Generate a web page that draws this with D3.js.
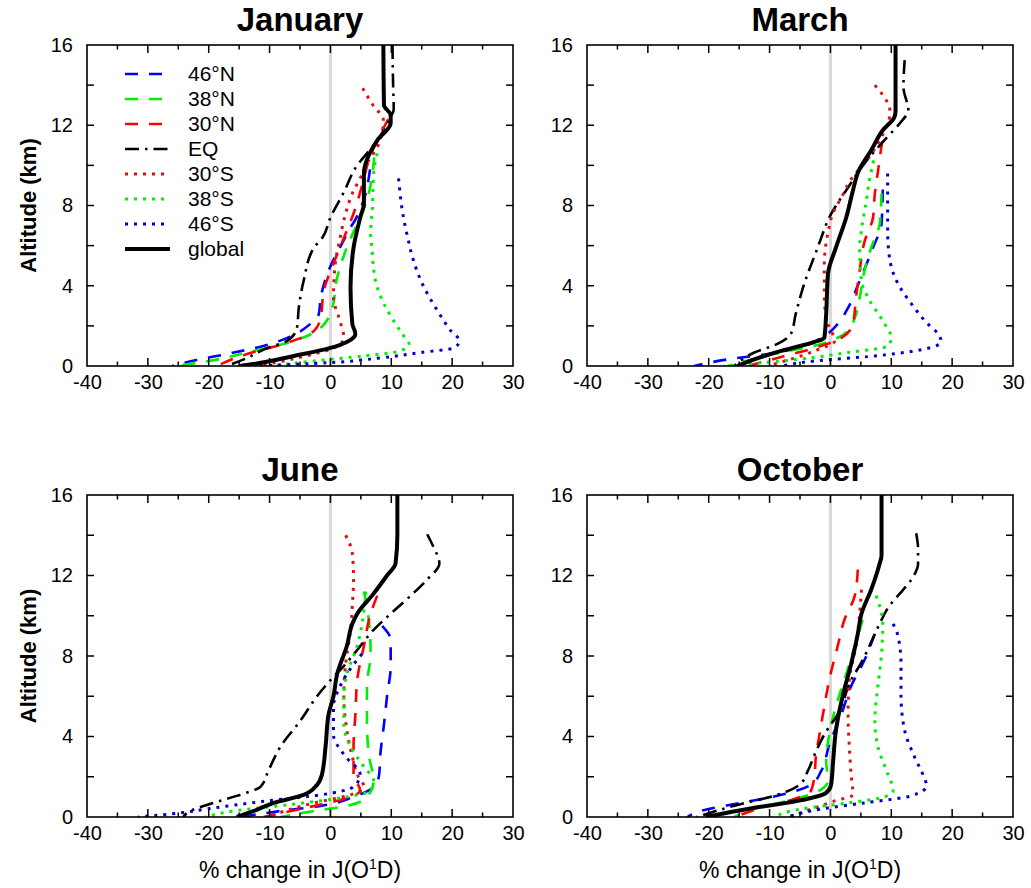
<!DOCTYPE html>
<html>
<head>
<meta charset="utf-8">
<script src="https://cdn.jsdelivr.net/npm/d3@7"></script>
<style>
  html, body { margin: 0; padding: 0; background: #fff; }
  svg { display: block; }
  text { font-family: "Liberation Sans", Arial, Helvetica, sans-serif; fill: #000; }
</style>
</head>
<body>
<svg id="chart" width="1031" height="888"></svg>
<script>
// ---------------- DATA ----------------
const months = ["January", "March", "June", "October"];
const seriesNames = ["46°N", "38°N", "30°N", "EQ", "30°S", "38°S", "46°S", "global"];
const seriesColors = ["#0000ff", "#00ee00", "#ff0000", "#000000", "#dd1111", "#00ee00", "#0000cc", "#000000"];
const seriesStyles = ["dash", "dash", "dash", "dashdot", "dot", "dot", "dot", "solid"];
const xTickLabels = [-40, -30, -20, -10, 0, 10, 20, 30];
const yTickLabels = [0, 4, 8, 12, 16];

// Each profile: [% change, altitude km], top to bottom, in seriesNames order
const january = [
  [[6.5,9.8],[5.5,8.3],[4.1,7.3],[3.3,6.9],[1.9,6.1],[-0.3,4.75],[-1.6,3.4],[-1.9,2.6],[-3.3,2.1],[-7.1,1.4],[-11,1.0],[-17,0.6],[-22,0.3],[-26,0]],
  [[7.2,10.4],[5.8,8.1],[4.4,7.1],[2.5,5.75],[1.1,4.4],[0.3,2.9],[-1.6,1.9],[-6,1.25],[-12.6,0.75],[-20,0.25],[-25.5,0]],
  [[9.5,12.3],[6.3,10.25],[5.3,9.1],[3.8,7.6],[2.7,6.75],[0.5,5.1],[-1.1,3.75],[-1.6,2.4],[-2.7,1.75],[-7.7,1.1],[-13.7,0.6],[-18.7,0]],
  [[10.2,16],[10.3,14],[10.4,12.8],[9.9,12.4],[7.7,11.25],[6.0,10.6],[4.4,10.0],[2.1,8.6],[0,7.4],[-1.3,6.4],[-2.7,5.9],[-4.4,4.25],[-5.2,2.9],[-5.5,1.9],[-7.1,1.25],[-10.4,0.9],[-13.7,0.4],[-17,0]],
  [[5.3,13.85],[7.0,13.0],[8.7,12.25],[7.7,10.9],[6.3,10.25],[5.3,9.6],[3.6,8.6],[2.2,7.25],[1.6,6.4],[0.8,5.1],[0.5,3.4],[1.4,2.4],[2.2,1.4],[0.5,0.9],[-5.5,0.4],[-12,0]],
  [[7.7,10.6],[7.1,9.6],[6.9,7.9],[6.6,6.6],[6.8,5.9],[7.4,4.25],[8.8,3.1],[10.4,2.25],[11.8,1.6],[12.9,1.1],[11.5,0.75],[5.5,0.5],[-2.7,0.25],[-9.9,0]],
  [[11.2,9.35],[12.0,7.4],[12.7,6.4],[13.5,5.4],[15.1,4.1],[17.6,2.75],[19.8,1.75],[21.2,1.25],[20.3,0.9],[14.8,0.67],[8.2,0.4],[0,0.17],[-12,0]],
  [[8.7,16],[8.8,13.0],[9.9,12.5],[9.9,12.1],[7.7,11.25],[5.5,9.6],[5.5,8.1],[4.9,7.4],[3.8,5.9],[3.3,3.9],[3.6,2.1],[4.1,1.6],[2.7,1.2],[0,0.9],[-6,0.5],[-12.6,0.1],[-15,0]]
];
const march = [
  [[8.6,8.8],[8.4,7.1],[7.0,5.9],[4.8,4.25],[2.9,2.9],[1.2,2.1],[-1.5,1.4],[-5.4,0.9],[-10.3,0.6],[-16.9,0.33],[-22.4,0]],
  [[8.4,8.6],[8.1,7.1],[6.7,5.9],[5.6,4.75],[4.8,3.4],[4.0,2.4],[2.9,1.75],[-1.5,1.1],[-9.2,0.6],[-16.9,0]],
  [[8.5,11.2],[7.6,9.25],[7.3,8.6],[7.0,7.4],[5.6,6.2],[4.8,4.75],[4.2,3.4],[3.7,2.1],[1.8,1.4],[-2.6,0.9],[-8.1,0.45],[-13.6,0]],
  [[12.2,15.25],[12.0,13.9],[12.8,12.75],[11.4,12.1],[9.0,11.3],[5.6,10.1],[2.9,8.9],[-0.2,7.4],[-1.5,6.4],[-2.1,5.9],[-4.3,4.1],[-5.7,2.6],[-6.5,1.6],[-8.7,1.1],[-12.5,0.67],[-15.8,0]],
  [[7.3,14.0],[9.8,12.65],[8.1,11.25],[5.6,10.1],[3.5,9.35],[1.8,8.4],[0.4,7.6],[-0.4,6.65],[-1.0,5.1],[-1.0,3.4],[-0.4,2.1],[0.7,1.25],[-2.6,0.75],[-10.3,0]],
  [[7.1,10.25],[6.4,9.25],[5.9,8.25],[5.1,6.75],[4.8,5.9],[5.1,4.25],[6.2,3.4],[8.6,2.25],[10.0,1.4],[9.5,1.0],[2.9,0.67],[-5.4,0.33],[-17.5,0]],
  [[9.4,9.6],[9.4,8.4],[9.4,6.75],[9.7,5.4],[11.1,4.1],[13.3,3.1],[16.0,2.1],[17.7,1.6],[18.2,1.2],[13.8,0.75],[7.3,0.5],[-2.6,0.25],[-8.1,0]],
  [[10.7,16],[10.7,12.7],[10.5,12.4],[8.6,11.75],[6.7,10.75],[4.6,9.7],[3.7,8.75],[2.6,7.4],[0.9,5.9],[-0.4,4.6],[-0.7,2.6],[-1.0,1.4],[-2.6,1.2],[-8.1,0.75],[-12.5,0.33],[-15.3,0]]
];
const june = [
  [[8.5,9.5],[9.9,8.8],[9.9,7.5],[9.3,6.0],[8.8,4.6],[8.2,3.1],[8.0,2.1],[7.1,1.5],[3.8,1.0],[-1.6,0.55],[-8.2,0.3],[-14.8,0]],
  [[5.5,11.2],[6.3,9.8],[6.6,8.1],[6.0,6.5],[6.0,4.8],[6.3,3.1],[7.1,1.8],[6.0,1.0],[2.7,0.55],[-2.7,0.3],[-8.2,0]],
  [[7.7,11.0],[6.6,10.1],[5.5,8.5],[4.4,6.8],[4.1,5.1],[3.8,3.5],[3.8,2.1],[4.9,1.3],[2.2,0.9],[-2.7,0.55],[-11,0]],
  [[15.9,14.05],[16.8,13.5],[17.9,12.6],[15.9,11.8],[13.2,11.0],[9.9,10.1],[7.1,9.3],[4.4,8.3],[2.2,7.5],[0,6.8],[-2.2,6.0],[-4.9,4.8],[-8.2,3.5],[-10.2,2.3],[-11.5,1.5],[-15.4,1.05],[-20.3,0.6],[-23,0.3],[-24.2,0]],
  [[2.5,14.0],[3.6,13.1],[3.8,11.8],[3.6,10.5],[3.3,9.3],[2.5,7.6],[2.2,6.0],[2.7,4.3],[3.6,3.0],[4.4,2.1],[5.5,1.5],[2.7,1.05],[-2.7,0.7],[-10.4,0]],
  [[5.8,11.2],[5.2,9.6],[4.4,8.5],[2.7,7.1],[2.2,6.0],[2.2,4.6],[3.3,3.5],[5.5,2.5],[7.1,1.8],[6.6,1.3],[2.7,1.0],[-7.1,0.6],[-15.9,0.3],[-20.6,0]],
  [[5.2,8.1],[3.6,7.5],[1.6,6.5],[0.5,5.5],[0.5,4.1],[2.2,3.1],[4.9,2.1],[3.8,1.5],[-1.6,1.1],[-10.4,0.8],[-20.3,0.4],[-24.7,0.2],[-31.6,0]],
  [[11,16],[11,14],[10.7,12.6],[9.3,12.0],[7.1,11.1],[4.4,10.1],[3.6,9.6],[2.7,8.5],[1.1,7.1],[0.5,6.0],[-0.3,5.1],[-0.8,3.5],[-1.4,2.1],[-2.2,1.6],[-4.4,1.1],[-9.3,0.7],[-12.6,0.3],[-15.4,0]]
];
const october = [
  [[7.3,9.1],[5.6,7.8],[3.4,6.5],[1.8,5.1],[-0.2,3.6],[-1.5,2.3],[-3.2,1.6],[-8.1,1.1],[-14.7,0.7],[-21.3,0.3],[-23.5,0]],
  [[5.3,9.8],[4.0,8.5],[2.6,7.1],[1.2,5.8],[-0.2,4.1],[-0.7,2.8],[-0.4,1.8],[-2.6,1.2],[-7,0.8],[-12.5,0.4],[-15.8,0]],
  [[4.5,12.3],[4.0,11.0],[2.3,9.8],[1.2,8.5],[-0.2,6.8],[-1.0,5.5],[-1.8,4.1],[-2.4,3.0],[-2.6,2.1],[-3.2,1.3],[-5.9,0.9],[-11.4,0.45],[-15.8,0]],
  [[14.1,14.1],[14.4,13.3],[14.4,12.6],[13.3,11.8],[11.1,11.0],[9.7,10.5],[8.4,9.8],[7.3,9.1],[5.3,7.8],[3.4,6.8],[1.2,5.1],[-1.0,4.1],[-2.6,3.1],[-3.7,2.3],[-5.1,1.6],[-8.7,1.1],[-15.3,0.6],[-22,0]],
  [[5.1,11.3],[4.8,10.1],[4.2,8.5],[3.1,6.8],[2.9,5.1],[3.1,3.5],[3.4,2.1],[3.7,1.1],[0.7,0.8],[-2.6,0.45],[-7,0]],
  [[7.5,11.0],[8.6,9.6],[8.4,8.1],[7.8,6.5],[7.3,4.8],[7.8,3.5],[9.2,2.3],[10.3,1.3],[8.9,1.0],[2.9,0.7],[-4.8,0.4],[-9.2,0]],
  [[10.3,9.6],[11.1,9.0],[11.6,7.6],[11.6,6.0],[12.2,4.3],[13.8,3.0],[15.2,2.1],[15.8,1.55],[13.3,1.05],[5.6,0.7],[-1.5,0.4],[-7,0]],
  [[8.4,16],[8.4,13.0],[8.0,12.5],[6.7,11.3],[5.1,10.1],[4.5,9.1],[3.4,7.6],[2.0,6.0],[0.9,4.3],[0.4,2.6],[0.1,1.6],[-0.7,1.2],[-5.4,0.8],[-13.6,0.4],[-20.5,0]]
];
const monthData = [january, march, june, october];

// ---------------- LAYOUT ----------------
const svg = d3.select("#chart");
svg.append("rect").attr("width", 1031).attr("height", 888).attr("fill", "#fff");
const FONT = '"Liberation Sans", Arial, Helvetica, sans-serif';

const panels = [
  {x0: 87, x1: 513, y0: 45, y1: 366},
  {x0: 587, x1: 1013, y0: 45, y1: 366},
  {x0: 87, x1: 513, y0: 495, y1: 817},
  {x0: 587, x1: 1013, y0: 495, y1: 817}
];

const styleDash = {
  dash: {dasharray: "13,11", width: 2.6},
  dashdot: {dasharray: "14,6,2.5,6", width: 2.6},
  dot: {dasharray: "3,6", width: 3},
  solid: {dasharray: null, width: 4}
};

panels.forEach((p, pi) => {
  const x = d3.scaleLinear().domain([-40, 30]).range([p.x0, p.x1]);
  const y = d3.scaleLinear().domain([0, 16]).range([p.y1, p.y0]);
  const g = svg.append("g");

  const clipId = "clip" + pi;
  svg.append("clipPath").attr("id", clipId)
    .append("rect").attr("x", p.x0).attr("y", p.y0)
    .attr("width", p.x1 - p.x0).attr("height", p.y1 - p.y0);

  // zero line
  g.append("line")
    .attr("x1", x(0)).attr("x2", x(0)).attr("y1", p.y0).attr("y2", p.y1)
    .attr("stroke", "#d8d8d8").attr("stroke-width", 3);

  // profiles
  const line = d3.line().x(d => x(d[0])).y(d => y(d[1])).curve(d3.curveMonotoneY);
  const cg = g.append("g").attr("clip-path", `url(#${clipId})`);
  monthData[pi].forEach((prof, si) => {
    const st = styleDash[seriesStyles[si]];
    cg.append("path")
      .attr("d", line(prof))
      .attr("fill", "none")
      .attr("stroke", seriesColors[si])
      .attr("stroke-width", st.width)
      .attr("stroke-linecap", "butt")
      .attr("stroke-linejoin", "round")
      .attr("stroke-dasharray", st.dasharray);
  });

  // x axis labels
  const axB = d3.axisBottom(x).tickValues(xTickLabels).tickSize(0).tickPadding(9).tickFormat(d => String(d));
  const bAxis = g.append("g").attr("transform", `translate(0,${p.y1})`).call(axB);
  bAxis.select(".domain").remove();
  bAxis.selectAll("text").attr("font-size", 20).attr("font-family", FONT);

  d3.range(-35, 26, 5).forEach(v => {
    const len = (Math.abs(v) % 10 === 0) ? 8 : 4.5;
    g.append("line").attr("x1", x(v)).attr("x2", x(v)).attr("y1", p.y1).attr("y2", p.y1 - len)
      .attr("stroke", "#000").attr("stroke-width", 1.5);
    g.append("line").attr("x1", x(v)).attr("x2", x(v)).attr("y1", p.y0).attr("y2", p.y0 + len)
      .attr("stroke", "#000").attr("stroke-width", 1.5);
  });

  // y axis
  const axL = d3.axisLeft(y).tickValues(yTickLabels).tickSize(0).tickPadding(14).tickFormat(d => String(d));
  const lAxis = g.append("g").attr("transform", `translate(${p.x0},0)`).call(axL);
  lAxis.select(".domain").remove();
  lAxis.selectAll("text").attr("font-size", 20).attr("font-family", FONT);

  d3.range(2, 15, 2).forEach(v => {
    g.append("line").attr("x1", p.x0).attr("x2", p.x0 + 7).attr("y1", y(v)).attr("y2", y(v))
      .attr("stroke", "#000").attr("stroke-width", 1.5);
    g.append("line").attr("x1", p.x1).attr("x2", p.x1 - 7).attr("y1", y(v)).attr("y2", y(v))
      .attr("stroke", "#000").attr("stroke-width", 1.5);
  });

  // frame
  g.append("rect").attr("x", p.x0).attr("y", p.y0)
    .attr("width", p.x1 - p.x0).attr("height", p.y1 - p.y0)
    .attr("fill", "none").attr("stroke", "#000").attr("stroke-width", 1.6);

  // title
  g.append("text").attr("x", (p.x0 + p.x1) / 2).attr("y", p.y0 - 14)
    .attr("text-anchor", "middle").attr("font-size", 33).attr("font-weight", "bold")
    .attr("font-family", FONT).text(months[pi]);

  // y label
  if (pi === 0 || pi === 2) {
    g.append("text")
      .attr("transform", `translate(36,${(p.y0 + p.y1) / 2}) rotate(-90)`)
      .attr("text-anchor", "middle").attr("font-size", 22).attr("font-weight", "bold")
      .attr("font-family", FONT).text("Altitude (km)");
  }
  // x label
  if (pi >= 2) {
    const t = g.append("text").attr("x", (p.x0 + p.x1) / 2).attr("y", 878)
      .attr("text-anchor", "middle").attr("font-size", 23).attr("font-family", FONT);
    t.append("tspan").text("% change in J(O");
    t.append("tspan").attr("font-size", 14).attr("dy", -9).text("1");
    t.append("tspan").attr("dy", 9).text("D)");
  }
});

// legend (January panel)
const lg = svg.append("g");
seriesNames.forEach((name, i) => {
  const yy = 74 + i * 25;
  const st = styleDash[seriesStyles[i]];
  lg.append("line").attr("x1", 125).attr("x2", 170).attr("y1", yy).attr("y2", yy)
    .attr("stroke", seriesColors[i]).attr("stroke-width", st.width)
    .attr("stroke-dasharray", st.dasharray);
  lg.append("text").attr("x", 188).attr("y", yy + 7).attr("font-size", 21)
    .attr("font-family", FONT).text(name);
});
</script>
</body>
</html>
